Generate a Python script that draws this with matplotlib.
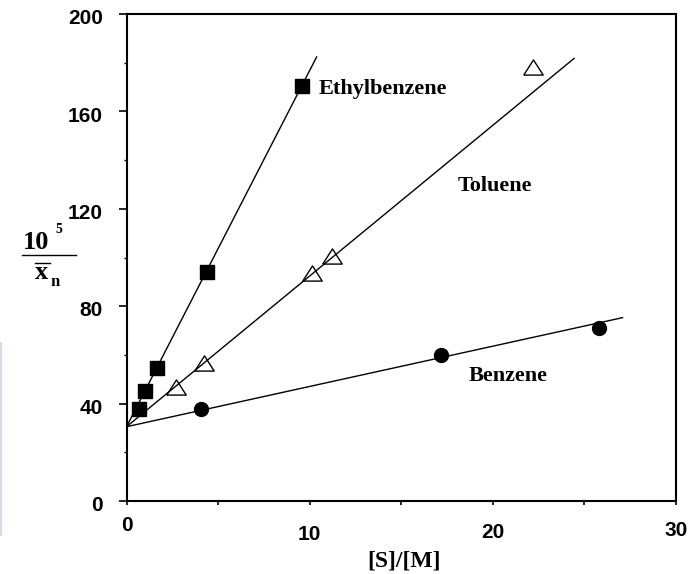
import numpy as np
import matplotlib
matplotlib.use("Agg")
import matplotlib.pyplot as plt
from matplotlib.lines import Line2D
from matplotlib.transforms import ScaledTranslation

# points: 10^5/Xn against [S]/[M]
eb_x = [0.68, 1.01, 1.68, 4.41, 9.56]
eb_y = [37.7, 45.0, 54.6, 94.1, 170.5]
tol_x = [2.72, 4.21, 10.11, 11.22, 22.17]
tol_y = [47.0, 56.8, 93.8, 100.6, 178.3]
bz_x = [4.07, 17.17, 25.79]
bz_y = [37.7, 59.8, 71.2]

# straight lines through the points (common intercept)
line_names = ["Ethylbenzene", "Toluene", "Benzene"]
line_intercept = 30.5
line_slopes = [14.63, 6.19, 1.654]
line_xmax = [10.38, 24.44, 27.08]

# where the names sit (data coords, left / baseline)
label_x = [10.47, 18.06, 18.66]
label_y = [167.1, 127.4, 49.2]

x_ticks = [0, 10, 20, 30]
y_ticks = [0, 40, 80, 120, 160, 200]

W, H = 696, 574
serif = "Liberation Serif"
sans = "Liberation Sans"
tick_font = {"family": sans, "weight": "bold", "size": 15}

fig = plt.figure(figsize=(W / 100, H / 100), dpi=100)
ax = fig.add_axes([126.5 / W, 1 - 501 / H, 549.5 / W, 487 / H])


def px(x, y):
    return x / W, 1 - y / H


# lines first, markers on top
for slope, xmax in zip(line_slopes, line_xmax):
    xs = np.array([0, xmax])
    ax.plot(xs, line_intercept + slope * xs, color="black", lw=1.0, zorder=2)

tri = [(-1, -0.78), (1, -0.78), (0, 0.78), (-1, -0.78)]
ax.plot(eb_x, eb_y, ls="none", marker="s", ms=10, mfc="black", mec="black", zorder=3)
ax.plot(tol_x, tol_y, ls="none", marker=tri, ms=14, mfc="none", mec="black",
        mew=1.0, zorder=3)
ax.plot(bz_x, bz_y, ls="none", marker="o", ms=10, mfc="black", mec="black", zorder=3)

for name, lx, ly in zip(line_names, label_x, label_y):
    ax.text(lx, ly, name, ha="left", va="baseline", fontsize=16,
            family=serif, weight="bold")

ax.set_xlim(0, 30)
ax.set_ylim(0, 200)
ax.set_xticks(x_ticks)
ax.set_xticks([5, 15, 25], minor=True)
ax.set_yticks(y_ticks)
ax.set_yticks([20, 60, 100, 140, 180], minor=True)
ax.set_xticklabels([str(t) for t in x_ticks], fontdict=tick_font)
ax.set_yticklabels([str(t) for t in y_ticks], fontdict=tick_font)

for sp in ax.spines.values():
    sp.set_linewidth(1.5)

ax.tick_params(axis="y", which="major", direction="out", length=6, width=1.2, pad=11)
ax.tick_params(axis="y", which="minor", direction="out", length=2.5, width=1.0)
ax.tick_params(axis="x", which="both", direction="out", length=3, width=1.2)

# the x tick labels in the original sit at uneven heights
x_pads = [7.5, 14, 13, 11.5]
for tick, p in zip(ax.xaxis.get_major_ticks(), x_pads):
    tick.set_pad(p)
for lab in ax.get_yticklabels():
    lab.set_transform(lab.get_transform() + ScaledTranslation(0, -2 / 72, fig.dpi_scale_trans))

# x axis title
fig.text(*px(404, 566), "[S]/[M]", ha="center", va="baseline", fontsize=17,
         family=serif, weight="bold")

# y axis title: 10^5 over x-bar sub n
fig.text(*px(22.7, 249), "10", ha="left", va="baseline", fontsize=19,
         family=serif, weight="bold")
fig.text(*px(55, 233), "5", ha="left", va="baseline", fontsize=10,
         family=serif, weight="bold")
fig.add_artist(Line2D([21.7 / W, 76 / W], [1 - 255 / H, 1 - 255 / H],
                      color="black", lw=1.0))
fig.text(*px(35, 279.3), "x", ha="left", va="baseline", fontsize=19,
         family=serif, weight="bold")
fig.add_artist(Line2D([35 / W, 50 / W], [1 - 262.7 / H, 1 - 262.7 / H],
                      color="black", lw=1.0))
fig.text(*px(50.5, 286), "n", ha="left", va="baseline", fontsize=12,
         family=serif, weight="bold")

# faint lavender rule on the left edge of the scan
fig.add_artist(Line2D([0.8 / W, 0.8 / W], [1 - 343 / H, 1 - 535 / H],
                      color="#dccbe6", lw=1.2))

fig.savefig("out.png", dpi=100)
